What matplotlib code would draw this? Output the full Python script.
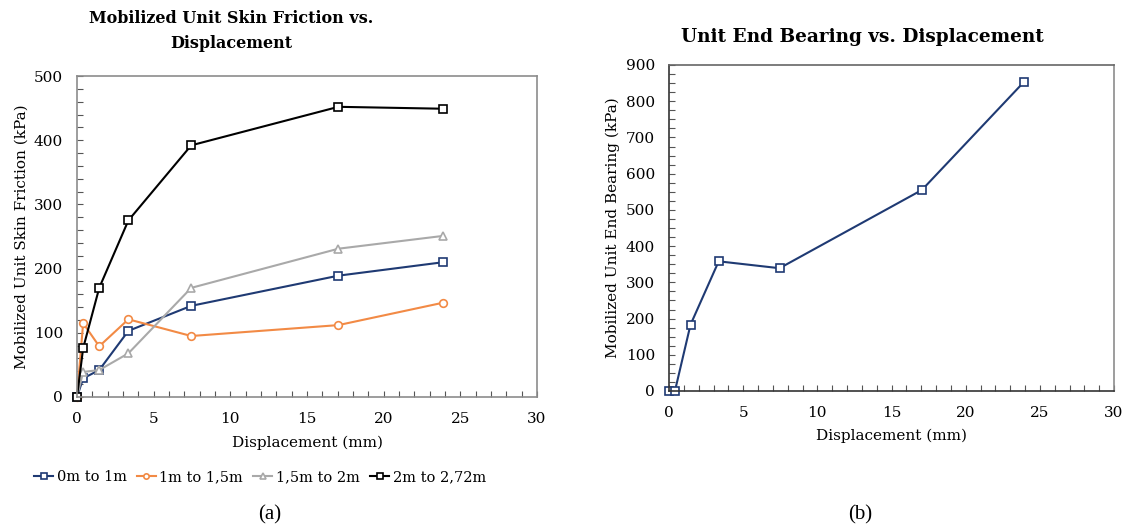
import numpy as np
import matplotlib
matplotlib.use("Agg")
import matplotlib.pyplot as plt
from matplotlib.ticker import MultipleLocator

plt.rcParams["font.family"] = ["DejaVu Serif"]

# displacement steps (mm)
disp = [0, 0.4, 1.45, 3.35, 7.45, 17.05, 23.9]

# unit skin friction per layer (kPa)
skin_0_1 = [0, 29, 42, 103, 142, 189, 210]
skin_1_15 = [0, 115, 79, 121, 95, 112, 147]
skin_15_2 = [0, 39, 42, 68, 170, 231, 251]
skin_2_272 = [0, 76, 170, 275, 392, 452, 449]

layer_labels = ["0m to 1m", "1m to 1,5m", "1,5m to 2m", "2m to 2,72m"]

# unit end bearing (kPa)
end_bearing = [0, 0, 183, 358, 339, 555, 852]

NAVY = "#1f3a73"
ORANGE = "#f28a45"
GREY = "#a9a9a9"
BLACK = "#000000"

W, H = 1128, 529
fig = plt.figure(figsize=(W / 100, H / 100), dpi=100)


def px_axes(x0, y0, x1, y1):
    return fig.add_axes([x0 / W, 1 - y1 / H, (x1 - x0) / W, (y1 - y0) / H])


def style_axes(ax, ymax, ymajor, yminor, spine_col):
    ax.set_xlim(0, 30)
    ax.set_ylim(0, ymax)
    ax.xaxis.set_major_locator(MultipleLocator(5))
    ax.xaxis.set_minor_locator(MultipleLocator(1))
    ax.yaxis.set_major_locator(MultipleLocator(ymajor))
    ax.yaxis.set_minor_locator(MultipleLocator(yminor))
    ax.tick_params(which="both", direction="in", color="#555555", labelsize=11,
                   top=False, right=False, length=4, width=0.8)
    ax.tick_params(axis="x", which="major", pad=11)
    ax.tick_params(axis="y", which="major", pad=10)
    for side, sp in ax.spines.items():
        sp.set_color(spine_col[side])
        sp.set_linewidth(1.2)


# (a) skin friction
ax1 = px_axes(77, 76, 537, 397)
series = [skin_0_1, skin_1_15, skin_15_2, skin_2_272]
colors = [NAVY, ORANGE, GREY, BLACK]
markers = ["s", "o", "^", "s"]
for vals, col, mk, lab in zip(series, colors, markers, layer_labels):
    ax1.plot(disp, vals, color=col, lw=1.5, marker=mk, ms=5.5,
             mfc="white", mec=col, mew=1.2, label=lab, clip_on=False)
style_axes(ax1, 500, 100, 20, {s: "#8c8c8c" for s in ["left", "right", "top", "bottom"]})
ax1.set_xlabel("Displacement (mm)", fontsize=11, labelpad=7)
ax1.set_ylabel("Mobilized Unit Skin Friction (kPa)", fontsize=11, labelpad=4)
fig.text(231 / W, 1 - 31 / H, "Mobilized Unit Skin Friction vs.\nDisplacement",
         ha="center", va="center", fontsize=11.5, fontweight="bold", linespacing=1.55)
leg = ax1.legend(loc="center", bbox_to_anchor=(260 / W, 1 - 477 / H),
                 bbox_transform=fig.transFigure, ncol=4, frameon=False,
                 fontsize=10.5, handlelength=1.3, handletextpad=0.25,
                 columnspacing=0.7, markerscale=0.7)

# (b) end bearing
ax2 = px_axes(669, 65, 1114, 391)
ax2.plot(disp, end_bearing, color=NAVY, lw=1.5, marker="s", ms=5.5,
         mfc="white", mec=NAVY, mew=1.2, clip_on=False)
style_axes(ax2, 900, 100, 25,
           {"left": "#333333", "bottom": "#333333", "top": "#666666", "right": "#8c8c8c"})
ax2.set_xlabel("Displacement (mm)", fontsize=11, labelpad=6)
ax2.set_ylabel("Mobilized Unit End Bearing (kPa)", fontsize=11, labelpad=4)
fig.text(862 / W, 1 - 37 / H, "Unit End Bearing vs. Displacement",
         ha="center", va="center", fontsize=13.3, fontweight="bold")

fig.text(270 / W, 1 - 515 / H, "(a)", ha="center", va="center",
         fontsize=15, family="Liberation Serif")
fig.text(860 / W, 1 - 515 / H, "(b)", ha="center", va="center",
         fontsize=15, family="Liberation Serif")

fig.savefig("out.png", dpi=100, facecolor="white")
